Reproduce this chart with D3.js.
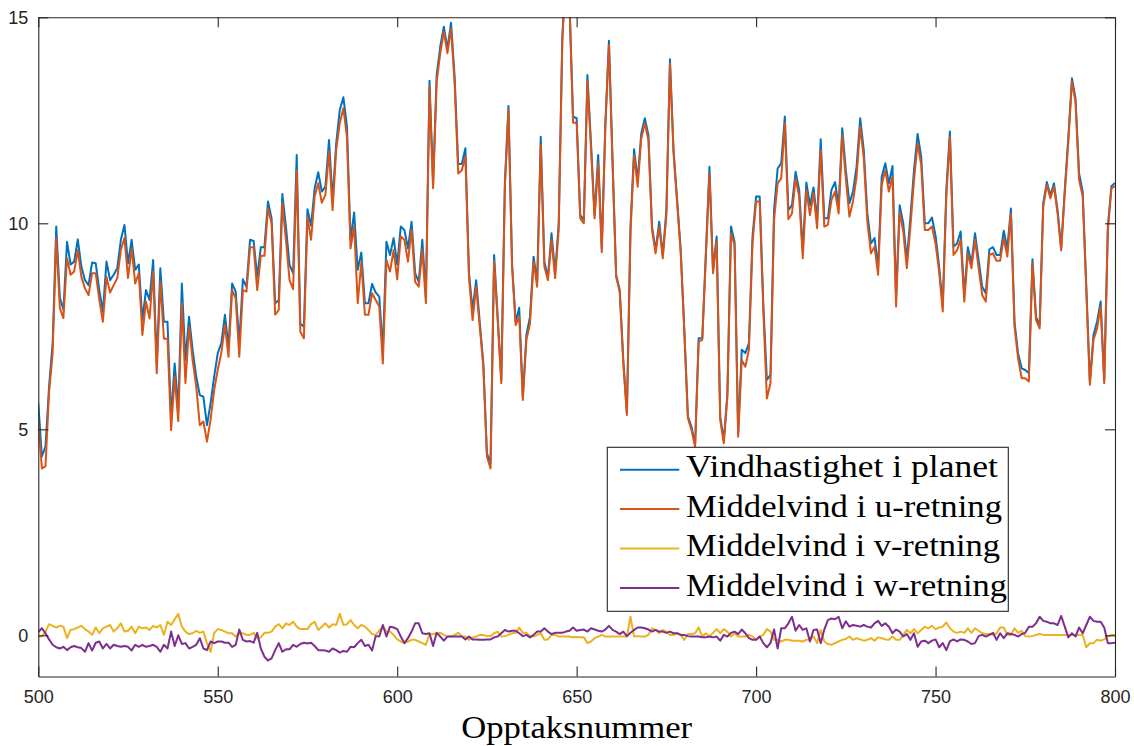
<!DOCTYPE html>
<html>
<head>
<meta charset="utf-8">
<script src="https://cdn.jsdelivr.net/npm/d3@7"></script>
<style>
  html, body { margin: 0; padding: 0; background: #fff; }
  svg { display: block; }
</style>
</head>
<body>
<svg id="chart" width="1134" height="746"></svg>
<script>
// ---------- DATA ----------
const xStart = 500;   // first sample number (one sample per step of 1)
const xTicks = [500, 550, 600, 650, 700, 750, 800];
const yTicks = [0, 5, 10, 15];
const seriesNames = ["Vindhastighet i planet", "Middelvind i u-retning", "Middelvind i v-retning", "Middelvind i w-retning"];
const seriesColors = ["#0072BD", "#D95319", "#EDB120", "#7E2F8E"];

// Vindhastighet i planet (500..800)
const speedPlane = [
5.63,4.34,4.58,6.04,7.1,9.92,8.2,7.9,9.55,9.0,
9.07,9.61,8.95,8.62,8.5,9.05,9.03,8.38,7.86,9.07,
8.62,8.75,8.91,9.6,9.96,9.03,9.6,8.87,9.0,7.65,
8.38,8.14,9.11,6.6,8.91,7.61,7.61,5.3,6.6,5.5,
8.54,6.68,7.73,6.93,6.28,5.83,5.79,5.1,5.63,6.28,
6.85,7.09,7.78,7.0,8.54,8.34,7.1,8.64,8.46,9.6,
9.57,8.7,9.42,9.42,10.53,10.12,8.06,8.14,10.71,9.92,
8.99,8.79,11.66,7.57,7.49,10.34,9.94,10.85,11.24,10.77,
10.89,12.02,10.57,11.94,12.75,13.06,12.35,9.6,10.26,8.87,
9.29,8.06,8.06,8.53,8.32,8.22,6.93,9.55,9.23,9.64,
9.0,9.92,9.84,9.39,10.04,8.79,8.58,9.6,8.22,13.46,
10.97,13.6,14.29,14.77,14.24,14.87,13.56,11.44,11.44,11.82,
8.79,7.9,8.62,7.61,6.6,4.42,4.17,9.23,7.73,6.2,
10.97,12.85,9.03,7.61,7.95,5.79,7.29,7.73,9.19,8.58,
12.1,9.07,8.7,9.76,8.79,10.0,14.5,16.2,15.4,12.59,
12.55,10.2,10.08,13.6,11.94,10.2,11.66,9.39,12.43,14.43,
11.54,8.75,8.38,6.68,5.39,9.92,11.8,11.05,12.18,12.55,
12.14,9.92,9.35,10.04,9.23,10.32,13.98,11.78,10.57,9.35,
7.41,5.31,5.06,4.62,7.21,7.21,9.27,11.37,8.87,9.68,
5.31,4.74,5.87,9.92,9.55,4.9,6.93,6.85,7.09,9.68,
10.65,10.65,8.06,6.2,6.32,10.32,11.33,11.46,12.59,10.32,
10.44,11.25,10.81,9.35,10.99,10.44,10.87,10.08,12.04,10.12,
10.12,10.81,11.0,10.4,12.31,11.29,10.49,10.77,11.38,12.55,
11.78,10.24,9.51,9.64,8.95,11.13,11.46,10.97,11.39,8.22,
10.44,10.0,9.11,10.16,11.29,12.17,11.62,10.0,10.0,10.14,
9.7,8.95,7.98,10.81,12.23,9.43,9.51,9.8,8.26,9.42,
9.03,9.76,9.11,8.46,8.3,9.37,9.42,9.23,9.23,9.82,
9.39,10.36,7.61,6.84,6.48,6.44,6.36,9.13,7.73,7.53,
10.49,11.0,10.68,10.97,10.32,9.39,10.81,12.1,13.52,13.03,
11.21,10.77,8.46,6.16,7.29,7.61,8.1,6.2,9.92,10.9,
10.98
];

// Middelvind i u-retning
const meanU = [
5.2,4.05,4.1,5.9,6.85,9.64,7.94,7.7,9.15,8.75,
8.83,9.35,8.7,8.42,8.26,8.79,8.79,8.14,7.61,8.7,
8.32,8.5,8.67,9.35,9.64,8.67,9.39,8.54,8.79,7.29,
8.1,7.69,8.83,6.36,8.58,7.2,7.2,4.98,6.28,5.2,
8.06,6.12,7.49,6.68,6.04,5.1,5.19,4.7,5.23,5.95,
6.45,6.85,7.53,6.76,8.38,8.18,6.76,8.38,8.34,9.42,
9.42,8.38,9.21,9.21,10.36,10.0,7.78,7.9,10.49,9.6,
8.62,8.4,11.29,7.37,7.21,10.15,9.6,10.65,10.97,10.5,
10.69,11.74,10.32,11.78,12.43,12.79,12.1,9.39,9.92,8.06,
9.05,7.78,7.78,8.3,8.14,7.98,6.6,9.11,8.83,9.35,
8.64,9.68,9.6,9.07,9.84,8.58,8.46,9.35,8.06,13.32,
10.85,13.44,14.13,14.65,14.13,14.73,13.4,11.21,11.29,11.62,
8.7,7.65,8.46,7.49,6.52,4.34,4.05,9.07,7.65,6.12,
10.89,12.75,8.95,7.53,7.73,5.71,7.17,7.57,9.07,8.46,
11.9,8.95,8.62,9.6,8.67,9.84,14.4,16.1,15.3,12.44,
12.44,10.12,10.0,13.44,11.82,10.12,11.46,9.3,12.35,14.33,
11.46,8.7,8.34,6.6,5.35,9.76,11.66,10.89,12.06,12.43,
12.02,9.84,9.27,9.92,9.15,10.2,13.88,11.7,10.49,9.27,
7.37,5.27,4.98,4.58,7.13,7.17,9.19,11.21,8.79,9.56,
5.23,4.66,5.79,9.76,9.47,4.82,6.68,6.52,6.93,9.51,
10.53,10.53,7.9,5.75,6.12,10.08,10.97,11.09,12.43,10.1,
10.24,11.09,10.65,9.15,10.81,10.2,10.73,9.88,11.78,9.92,
9.96,10.57,10.77,10.24,12.14,11.09,10.16,10.53,11.13,12.35,
11.58,10.04,9.27,9.43,8.75,10.93,11.29,10.77,11.13,7.98,
10.28,9.8,8.91,9.92,11.05,11.94,11.42,9.84,9.84,9.92,
9.5,8.83,7.86,10.65,12.1,9.23,9.35,9.6,8.1,9.27,
8.91,9.6,8.91,8.26,8.1,9.23,9.27,9.09,9.09,9.64,
9.19,10.24,7.49,6.72,6.24,6.24,6.16,9.03,7.65,7.45,
10.4,10.93,10.61,10.89,10.24,9.34,10.73,11.98,13.44,12.95,
11.05,10.65,8.38,6.08,7.17,7.45,7.98,6.12,9.8,10.85,
10.9
];

// Middelvind i v-retning
const meanV = [
-0.03,-0.03,0.09,0.27,0.23,0.19,0.23,0.21,-0.07,0.13,
0.15,0.19,0.23,0.15,0.09,0.01,0.19,0.05,0.17,0.21,
0.25,0.09,0.17,0.29,0.09,0.11,0.21,0.05,0.21,0.17,
0.19,0.13,0.23,0.19,0.25,0.01,0.33,0.25,0.39,0.52,
0.21,0.09,0.03,0.05,0.11,0.06,0.09,-0.19,-0.4,0.06,
0.15,0.13,0.09,0.05,0.05,-0.03,0.05,0.05,0.01,0.01,
0.06,-0.07,-0.05,0.06,0.06,0.09,0.21,0.27,0.17,0.29,
0.25,0.33,0.21,0.15,0.15,0.15,0.27,0.33,0.13,0.21,
0.29,0.19,0.27,0.25,0.52,0.25,0.27,0.37,0.25,0.17,
0.25,0.21,0.13,0.03,0.01,0.11,0.21,0.09,0.09,0.01,
-0.1,-0.15,-0.19,-0.15,-0.11,-0.11,-0.15,-0.19,-0.23,0.03,
0.03,0.05,0.06,0.01,-0.03,-0.03,0.01,0.06,-0.02,-0.03,
-0.11,-0.05,-0.03,0.01,0.01,-0.02,-0.02,0.05,0.09,-0.03,
-0.02,0.01,0.05,0.06,0.19,0.06,0.06,-0.02,-0.03,0.01,
0.05,-0.11,-0.1,0.01,0.01,-0.03,-0.03,-0.03,-0.03,-0.05,
-0.04,-0.05,-0.05,-0.19,-0.15,-0.07,-0.03,0.01,-0.03,-0.03,
-0.03,-0.03,-0.03,-0.03,-0.03,0.45,-0.03,-0.02,-0.03,-0.03,
0.01,0.17,0.13,0.05,0.13,0.09,0.01,0.01,0.05,0.01,
-0.11,0.03,0.03,0.05,0.19,-0.03,0.05,-0.03,0.06,0.15,
0.05,0.15,0.09,-0.03,0.05,-0.03,-0.03,-0.03,0.01,-0.03,
-0.11,-0.03,0.01,0.15,0.09,-0.11,-0.11,-0.15,-0.11,-0.11,
-0.13,-0.13,-0.13,-0.15,-0.11,-0.11,-0.03,-0.19,0.13,-0.15,
-0.21,-0.23,-0.19,-0.15,-0.11,-0.09,-0.03,-0.11,-0.07,-0.1,
-0.13,-0.11,-0.07,-0.13,-0.05,-0.07,-0.1,-0.11,-0.03,-0.11,
-0.11,0.01,0.13,0.05,0.15,0.05,0.13,0.21,0.17,0.23,
0.15,0.19,0.21,0.31,0.17,0.09,0.06,0.09,0.06,0.17,
0.06,0.17,0.11,0.05,0.03,0.03,0.01,0.05,0.19,0.19,
0.01,0.01,0.17,0.06,0.11,-0.02,-0.03,-0.02,0.01,0.03,
0.01,0.01,0.01,0.01,0.01,0.01,0.01,0.01,0.01,0.01,
0.01,0.01,-0.29,-0.19,-0.19,-0.11,-0.13,-0.1,-0.03,0.01,
0.01
];

// Middelvind i w-retning
const meanW = [
0.08,0.17,0.05,-0.1,-0.23,-0.29,-0.32,-0.28,-0.36,-0.29,
-0.26,-0.29,-0.31,-0.4,-0.19,-0.37,-0.18,-0.15,-0.32,-0.21,
-0.32,-0.23,-0.26,-0.28,-0.26,-0.28,-0.37,-0.23,-0.28,-0.23,
-0.28,-0.26,-0.23,-0.28,-0.4,-0.23,-0.32,0.09,-0.26,0.0,
-0.21,-0.19,-0.32,-0.28,-0.23,-0.07,-0.32,-0.36,-0.15,-0.19,
-0.15,-0.15,-0.18,-0.18,-0.28,-0.23,0.14,-0.11,-0.15,-0.14,
-0.18,0.06,-0.32,-0.52,-0.61,-0.56,-0.36,-0.19,-0.4,-0.34,
-0.34,-0.23,-0.28,-0.21,-0.18,-0.2,-0.18,-0.26,-0.36,-0.36,
-0.37,-0.4,-0.32,-0.36,-0.42,-0.38,-0.4,-0.28,-0.29,-0.19,
-0.11,-0.26,-0.23,-0.37,-0.02,-0.03,0.25,-0.03,0.21,0.19,
0.15,-0.03,-0.19,-0.07,0.09,0.29,0.29,0.05,0.03,0.05,
-0.26,0.06,-0.03,-0.13,-0.03,-0.03,-0.03,-0.03,-0.03,-0.1,
-0.03,-0.1,-0.1,-0.11,-0.11,-0.1,-0.1,-0.05,-0.03,0.05,
0.13,0.09,0.11,0.11,0.05,-0.02,0.01,-0.05,0.01,0.09,
0.09,0.17,0.09,0.03,0.06,0.06,0.06,0.09,0.11,0.19,
0.11,0.13,0.14,0.09,0.17,0.14,0.11,0.09,0.14,0.23,
0.13,0.09,0.03,0.09,-0.02,0.06,0.13,0.19,0.19,0.17,
0.14,0.09,0.13,0.09,0.09,0.06,0.09,0.05,0.05,0.01,
0.01,-0.02,-0.03,-0.03,-0.03,-0.05,-0.05,-0.03,-0.05,-0.03,
-0.13,0.01,-0.03,0.06,0.09,0.03,0.14,0.05,-0.07,-0.11,
-0.11,-0.03,-0.19,-0.29,-0.19,0.14,-0.32,0.17,0.17,0.29,
0.45,0.11,0.25,0.13,0.17,-0.15,0.13,0.14,-0.19,0.14,
0.37,0.41,0.39,0.45,0.17,0.34,0.21,0.25,0.23,0.21,
0.25,0.21,0.19,0.29,0.35,0.23,0.29,0.21,0.05,0.14,
0.09,-0.03,0.03,-0.11,0.05,-0.28,-0.15,-0.13,-0.19,-0.13,
-0.1,-0.29,-0.19,-0.36,-0.15,-0.1,-0.15,-0.1,-0.11,-0.15,
-0.21,-0.19,-0.02,0.01,-0.03,0.01,0.06,-0.11,0.05,-0.07,
0.05,0.03,0.01,-0.03,0.03,0.06,0.21,0.21,0.29,0.45,
0.35,0.33,0.29,0.29,0.25,0.47,0.21,-0.05,0.05,-0.03,
0.19,0.05,0.25,0.45,0.35,0.33,0.33,0.19,-0.19,-0.19,
-0.18
];

// ---------- CHART ----------
const W = 1134, H = 746;
const plot = { left: 38.3, right: 1115, top: 17.3, bottom: 676.5 };
const axisColor = "#262626";

const svg = d3.select("#chart");

const x = d3.scaleLinear().domain([500, 800]).range([plot.left, plot.right]);
const y = d3.scaleLinear().domain([-1, 15]).range([plot.bottom, plot.top]);

svg.append("rect").attr("width", W).attr("height", H).attr("fill", "#fff");

svg.append("defs").append("clipPath").attr("id", "clip")
  .append("rect")
  .attr("x", plot.left).attr("y", plot.top)
  .attr("width", plot.right - plot.left).attr("height", plot.bottom - plot.top);

const allSeries = [speedPlane, meanU, meanV, meanW];
const line = d3.line()
  .x((d, i) => x(xStart + i))
  .y(d => y(d));

const lines = svg.append("g").attr("clip-path", "url(#clip)");
allSeries.forEach((s, k) => {
  lines.append("path")
    .datum(s)
    .attr("fill", "none")
    .attr("stroke", seriesColors[k])
    .attr("stroke-width", 2)
    .attr("stroke-linejoin", "round")
    .attr("d", line);
});

// Axes (MATLAB-like box with inward ticks)
function styleAxis(g) {
  g.selectAll("path.domain").attr("stroke", axisColor).attr("stroke-width", 1.1);
  g.selectAll(".tick line").attr("stroke", axisColor).attr("stroke-width", 1.1);
  g.selectAll(".tick text")
    .attr("fill", axisColor)
    .style("font-family", "'Liberation Sans', Arial, Helvetica, sans-serif")
    .style("font-size", "18px");
}

const xAxisB = d3.axisBottom(x).tickValues(xTicks).tickSizeInner(-10).tickSizeOuter(0).tickPadding(14).tickFormat(d3.format("d"));
svg.append("g").attr("transform", `translate(0,${plot.bottom})`).call(xAxisB).call(styleAxis);

const xAxisT = d3.axisTop(x).tickValues(xTicks).tickSizeInner(-10).tickSizeOuter(0).tickFormat("");
svg.append("g").attr("transform", `translate(0,${plot.top})`).call(xAxisT).call(styleAxis);

const yAxisL = d3.axisLeft(y).tickValues(yTicks).tickSizeInner(-10).tickSizeOuter(0).tickPadding(10).tickFormat(d3.format("d"));
svg.append("g").attr("transform", `translate(${plot.left},0)`).call(yAxisL).call(styleAxis);

const yAxisR = d3.axisRight(y).tickValues(yTicks).tickSizeInner(-10).tickSizeOuter(0).tickFormat("");
svg.append("g").attr("transform", `translate(${plot.right},0)`).call(yAxisR).call(styleAxis);

// X label
svg.append("text")
  .attr("x", (plot.left + plot.right) / 2)
  .attr("y", 738)
  .attr("text-anchor", "middle")
  .attr("textLength", 231)
  .attr("lengthAdjust", "spacingAndGlyphs")
  .style("font-family", "'Liberation Serif', 'Times New Roman', serif")
  .style("font-size", "31px")
  .attr("fill", "#000")
  .text("Opptaksnummer");

// Legend
const legend = { x: 607.3, y: 447.3, w: 401, h: 164 };
const lg = svg.append("g");
lg.append("rect")
  .attr("x", legend.x).attr("y", legend.y)
  .attr("width", legend.w).attr("height", legend.h)
  .attr("fill", "#fff").attr("stroke", axisColor).attr("stroke-width", 1.1);
const textLens = [312, 316, 314, 321];
seriesNames.forEach((name, k) => {
  const cy = 469.7 + k * 39.4;
  lg.append("line")
    .attr("x1", 620).attr("x2", 679.3)
    .attr("y1", cy).attr("y2", cy)
    .attr("stroke", seriesColors[k]).attr("stroke-width", 2);
  lg.append("text")
    .attr("x", 686)
    .attr("y", cy + 7.6)
    .attr("textLength", textLens[k])
    .attr("lengthAdjust", "spacingAndGlyphs")
    .style("font-family", "'Liberation Serif', 'Times New Roman', serif")
    .style("font-size", "31px")
    .attr("fill", "#000")
    .text(name);
});
</script>
</body>
</html>
